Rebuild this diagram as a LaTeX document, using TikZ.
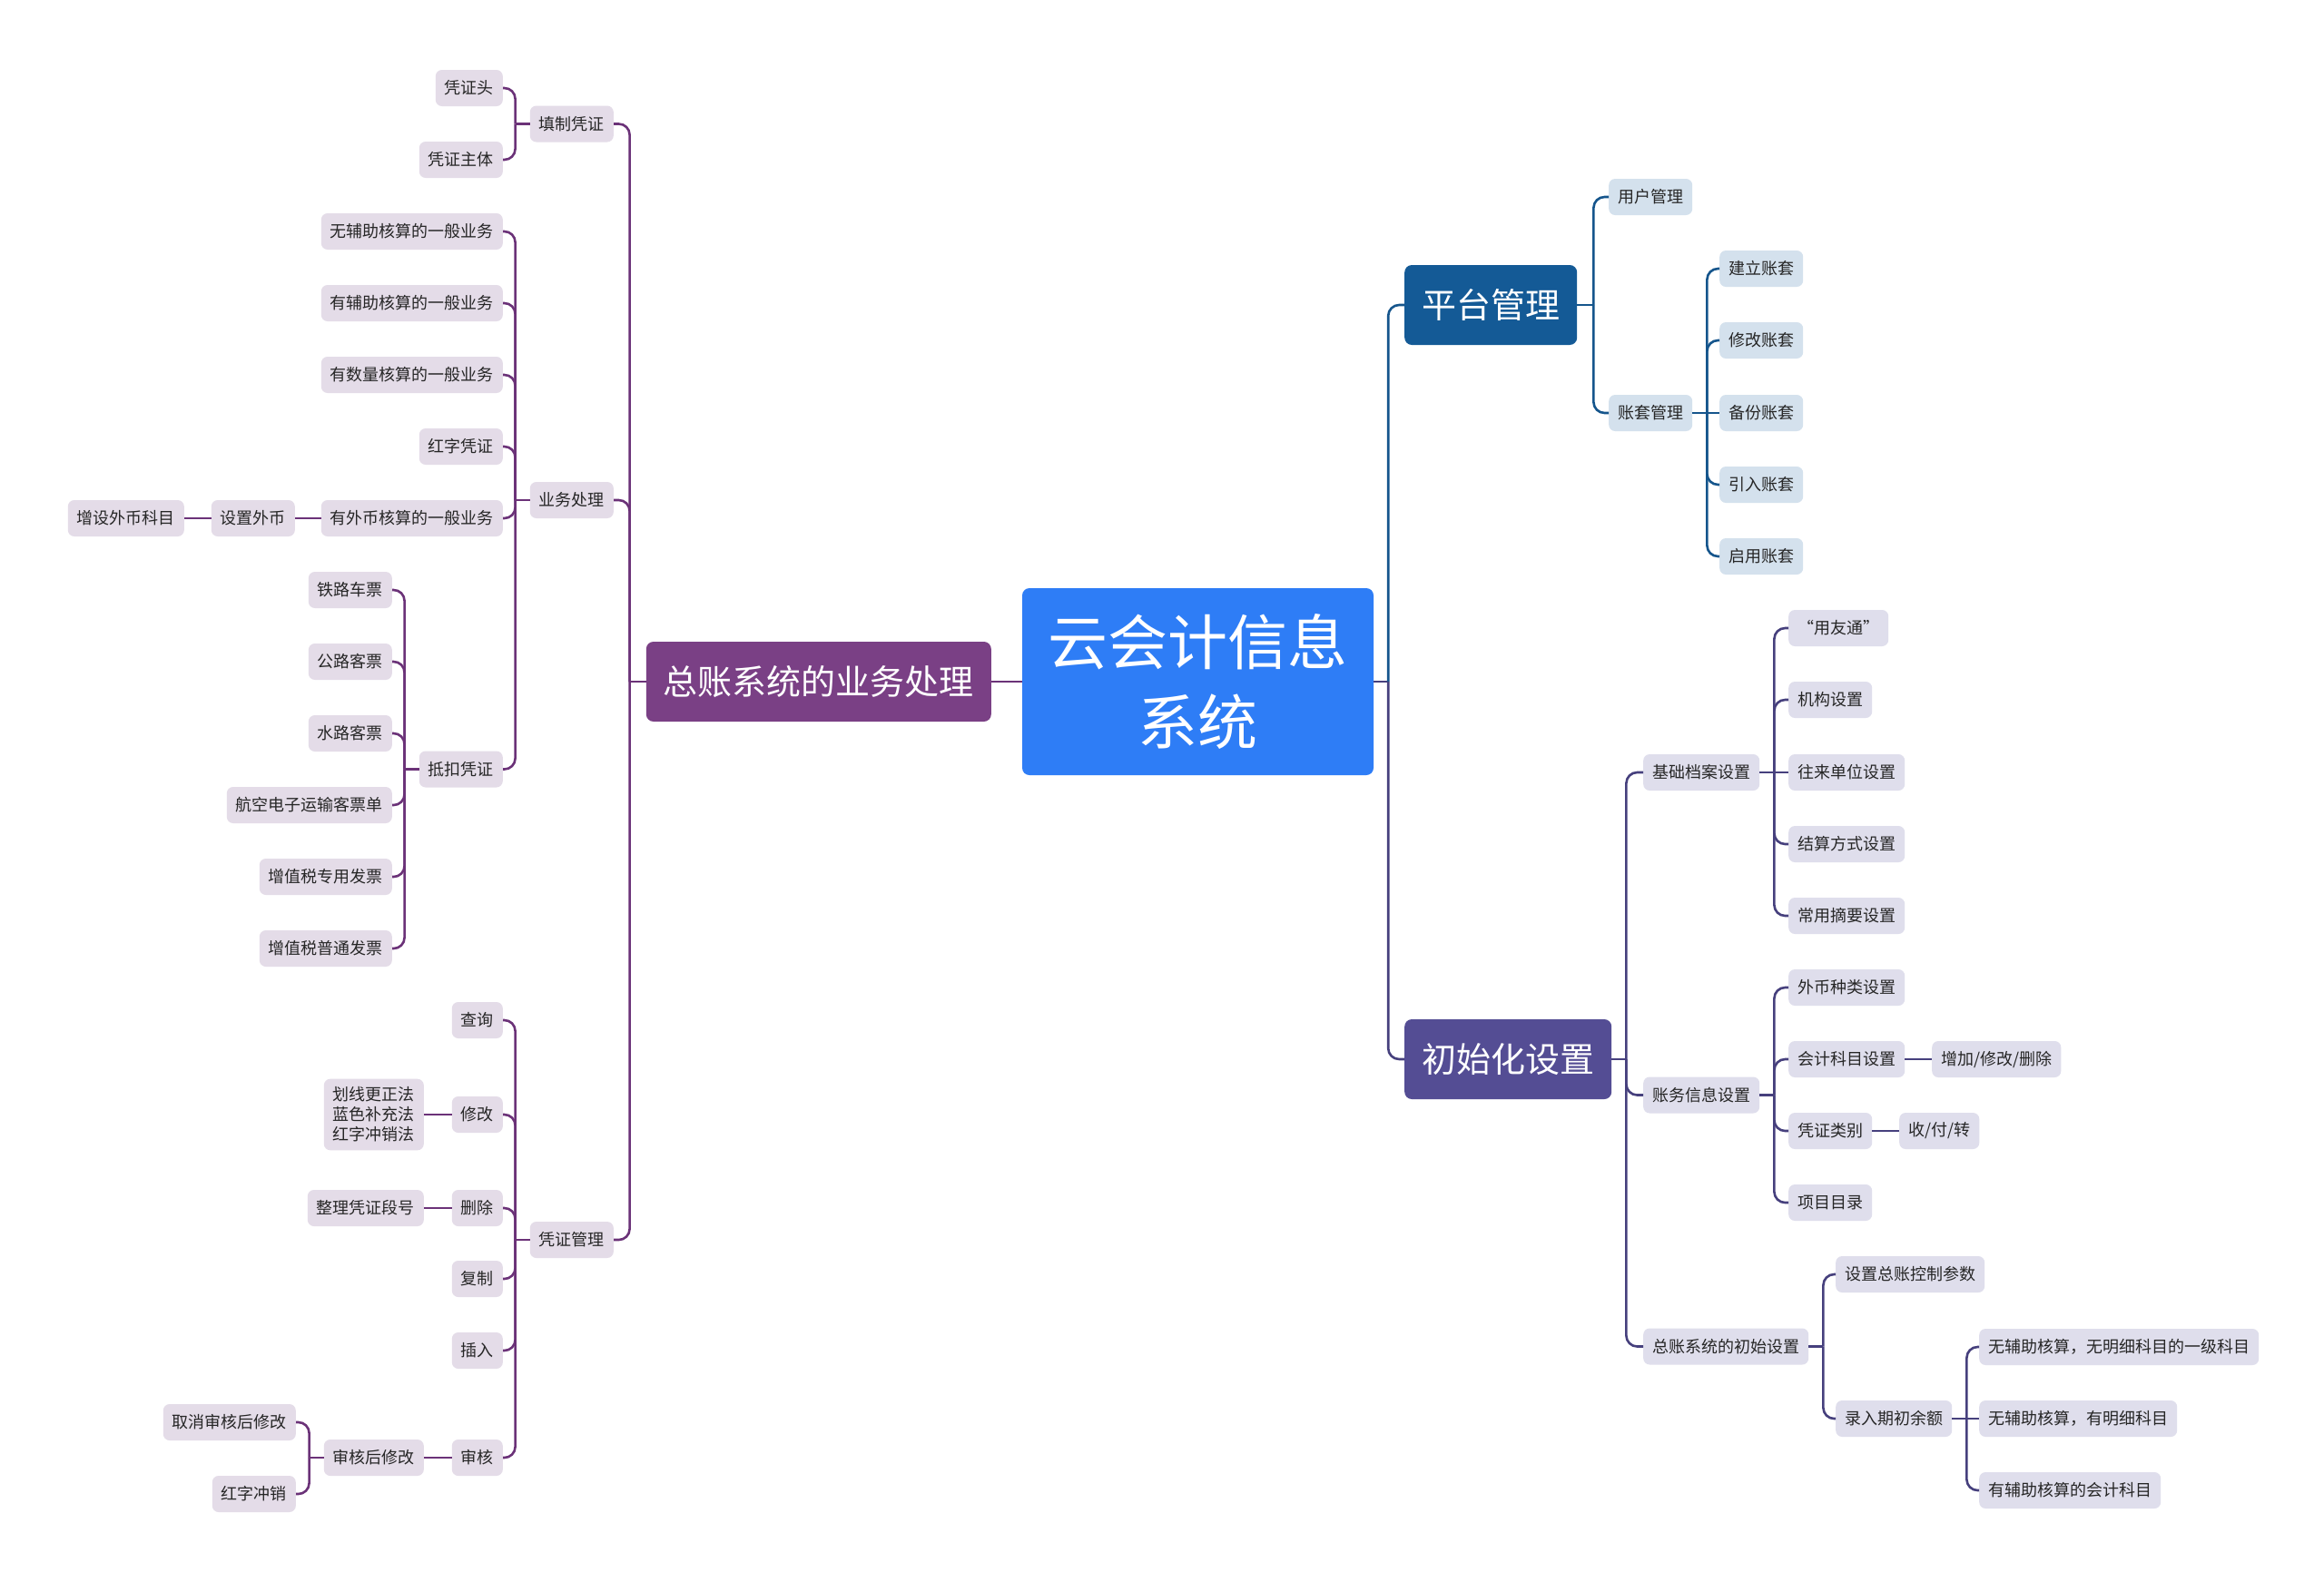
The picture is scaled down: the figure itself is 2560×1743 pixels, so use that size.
\documentclass[tikz,border=0pt]{standalone}
\usepackage{fontspec}
\setmainfont{Noto Sans CJK SC}
\definecolor{rootblue}{HTML}{2E7DF6}
\definecolor{zmain}{HTML}{7A4085}
\definecolor{zline}{HTML}{6B3278}
\definecolor{zfill}{HTML}{E4DCE8}
\definecolor{pmain}{HTML}{145A96}
\definecolor{pline}{HTML}{15558C}
\definecolor{pfill}{HTML}{D4E1ED}
\definecolor{cmain}{HTML}{544D94}
\definecolor{cline}{HTML}{46407D}
\definecolor{cfill}{HTML}{DFDEEC}
\definecolor{leaftext}{HTML}{262626}
\begin{document}
\begin{tikzpicture}[x=1pt,y=-1pt,
    box/.style={rounded corners=7pt,minimum height=40pt,inner xsep=10pt,inner ysep=0pt,text=leaftext,font=\fontsize{18}{22}\selectfont},
    zbox/.style={box,fill=zfill},
    pbox/.style={box,fill=pfill},
    cbox/.style={box,fill=cfill},
    main/.style={rounded corners=8pt,minimum height=88pt,inner xsep=19pt,inner ysep=0pt,text=white,font=\fontsize{38}{44}\selectfont},
    root/.style={rounded corners=8pt,fill=rootblue,minimum width=387pt,minimum height=206pt,align=center,text=white,font=\fontsize{66}{88}\selectfont},
    zlk/.style={draw=zline,line width=2.6pt,rounded corners=12pt},
    plk/.style={draw=pline,line width=2.6pt,rounded corners=12pt},
    clk/.style={draw=cline,line width=2.6pt,rounded corners=12pt}]
\fill[white] (0,0) rectangle (2560,1743);
\useasboundingbox (0,0) rectangle (2560,1743);

\node[root] (root) at (1319.5,751) {云会计信息\\系统};

\node[main,fill=zmain,anchor=east] (zz) at (1092,751) {总账系统的业务处理};
\node[zbox,anchor=east] (tz) at (676,136.5) {填制凭证};
\node[zbox,anchor=east] (yw) at (676,551) {业务处理};
\node[zbox,anchor=east] (pg) at (676,1366) {凭证管理};
\node[zbox,anchor=east] (pzt) at (554,97) {凭证头};
\node[zbox,anchor=east] (pzz) at (554,176) {凭证主体};
\node[zbox,anchor=east] (wf) at (554,255) {无辅助核算的一般业务};
\node[zbox,anchor=east] (yf) at (554,334) {有辅助核算的一般业务};
\node[zbox,anchor=east] (ys) at (554,413) {有数量核算的一般业务};
\node[zbox,anchor=east] (hz) at (554,492) {红字凭证};
\node[zbox,anchor=east] (wb) at (554,571) {有外币核算的一般业务};
\node[zbox,anchor=east] (sw) at (325,571) {设置外币};
\node[zbox,anchor=east] (zs) at (203,571) {增设外币科目};
\node[zbox,anchor=east] (dk) at (554,847.5) {抵扣凭证};
\node[zbox,anchor=east] (tl) at (432,650) {铁路车票};
\node[zbox,anchor=east] (gl) at (432,729) {公路客票};
\node[zbox,anchor=east] (sl) at (432,808) {水路客票};
\node[zbox,anchor=east] (hk) at (432,887) {航空电子运输客票单};
\node[zbox,anchor=east] (zy) at (432,966) {增值税专用发票};
\node[zbox,anchor=east] (pp) at (432,1045) {增值税普通发票};
\node[zbox,anchor=east] (cx) at (554,1124) {查询};
\node[zbox,anchor=east] (xg) at (554,1228) {修改};
\node[zbox,anchor=east,align=center,inner ysep=9pt] (ff) at (467,1228) {划线更正法\\蓝色补充法\\红字冲销法};
\node[zbox,anchor=east] (sc) at (554,1331) {删除};
\node[zbox,anchor=east] (zl) at (467,1331) {整理凭证段号};
\node[zbox,anchor=east] (fz) at (554,1409) {复制};
\node[zbox,anchor=east] (cr) at (554,1488) {插入};
\node[zbox,anchor=east] (sh) at (554,1606) {审核};
\node[zbox,anchor=east] (shx) at (467,1606) {审核后修改};
\node[zbox,anchor=east] (qx) at (326,1567) {取消审核后修改};
\node[zbox,anchor=east] (hc) at (326,1646) {红字冲销};

\node[main,fill=pmain,anchor=west] (ptgl) at (1547,336) {平台管理};
\node[pbox,anchor=west] (yh) at (1772,217) {用户管理};
\node[pbox,anchor=west] (zt) at (1772,455) {账套管理};
\node[pbox,anchor=west] (jl) at (1894,296) {建立账套};
\node[pbox,anchor=west] (xz) at (1894,375) {修改账套};
\node[pbox,anchor=west] (bf) at (1894,455) {备份账套};
\node[pbox,anchor=west] (yr) at (1894,534) {引入账套};
\node[pbox,anchor=west] (qy) at (1894,613) {启用账套};

\node[main,fill=cmain,anchor=west] (csh) at (1547,1167) {初始化设置};
\node[cbox,anchor=west] (jc) at (1810,851) {基础档案设置};
\node[cbox,anchor=west] (yyt) at (1970,692) {“用友通”};
\node[cbox,anchor=west] (jg) at (1970,771) {机构设置};
\node[cbox,anchor=west] (wl) at (1970,851) {往来单位设置};
\node[cbox,anchor=west] (js) at (1970,930) {结算方式设置};
\node[cbox,anchor=west] (cy) at (1970,1009) {常用摘要设置};
\node[cbox,anchor=west] (cw) at (1810,1206.5) {账务信息设置};
\node[cbox,anchor=west] (wz) at (1970,1088) {外币种类设置};
\node[cbox,anchor=west] (km) at (1970,1167) {会计科目设置};
\node[cbox,anchor=west] (zj) at (2128,1167) {增加/修改/删除};
\node[cbox,anchor=west] (lb) at (1970,1246) {凭证类别};
\node[cbox,anchor=west] (sfz) at (2092,1246) {收/付/转};
\node[cbox,anchor=west] (xm) at (1970,1325) {项目目录};
\node[cbox,anchor=west] (zc) at (1810,1483.5) {总账系统的初始设置};
\node[cbox,anchor=west] (kz) at (2022,1404) {设置总账控制参数};
\node[cbox,anchor=west] (lr) at (2022,1563) {录入期初余额};
\node[cbox,anchor=west] (la) at (2180,1484) {无辅助核算，无明细科目的一级科目};
\node[cbox,anchor=west] (lbm) at (2180,1563) {无辅助核算，有明细科目};
\node[cbox,anchor=west] (lc) at (2180,1642) {有辅助核算的会计科目};

\draw[zlk] (root.west) -- (zz.east);
\draw[zlk] (zz.west) -- ++(-18,0) coordinate (zzs);
\draw[zlk] (zzs) |- (tz.east);
\draw[zlk] (zzs) |- (yw.east);
\draw[zlk] (zzs) |- (pg.east);
\draw[zlk] (tz.west) -- ++(-16,0) coordinate (tzs);
\draw[zlk] (tzs) |- (pzt.east);
\draw[zlk] (tzs) |- (pzz.east);
\draw[zlk] (yw.west) -- ++(-16,0) coordinate (yws);
\draw[zlk] (yws) |- (wf.east);
\draw[zlk] (yws) |- (yf.east);
\draw[zlk] (yws) |- (ys.east);
\draw[zlk] (yws) |- (hz.east);
\draw[zlk] (yws) |- (wb.east);
\draw[zlk] (yws) |- (dk.east);
\draw[zlk] (wb.west) -- (sw.east);
\draw[zlk] (sw.west) -- (zs.east);
\draw[zlk] (dk.west) -- ++(-16,0) coordinate (dks);
\draw[zlk] (dks) |- (tl.east);
\draw[zlk] (dks) |- (gl.east);
\draw[zlk] (dks) |- (sl.east);
\draw[zlk] (dks) |- (hk.east);
\draw[zlk] (dks) |- (zy.east);
\draw[zlk] (dks) |- (pp.east);
\draw[zlk] (pg.west) -- ++(-16,0) coordinate (pgs);
\draw[zlk] (pgs) |- (cx.east);
\draw[zlk] (pgs) |- (xg.east);
\draw[zlk] (pgs) |- (sc.east);
\draw[zlk] (pgs) |- (fz.east);
\draw[zlk] (pgs) |- (cr.east);
\draw[zlk] (pgs) |- (sh.east);
\draw[zlk] (xg.west) -- (ff.east);
\draw[zlk] (sc.west) -- (zl.east);
\draw[zlk] (sh.west) -- (shx.east);
\draw[zlk] (shx.west) -- ++(-16,0) coordinate (shxs);
\draw[zlk] (shxs) |- (qx.east);
\draw[zlk] (shxs) |- (hc.east);

\draw[clk] (root.east) -- ++(16,0) coordinate (rs);
\draw[plk] (rs) |- (ptgl.west);
\draw[clk] (rs) |- (csh.west);
\draw[plk] (ptgl.east) -- ++(18,0) coordinate (pts);
\draw[plk] (pts) |- (yh.west);
\draw[plk] (pts) |- (zt.west);
\draw[plk] (zt.east) -- ++(16,0) coordinate (zts);
\draw[plk] (zts) |- (jl.west);
\draw[plk] (zts) |- (xz.west);
\draw[plk] (zt.east) -- (bf.west);
\draw[plk] (zts) |- (yr.west);
\draw[plk] (zts) |- (qy.west);
\draw[clk] (csh.east) -- ++(16,0) coordinate (cshs);
\draw[clk] (cshs) |- (jc.west);
\draw[clk] (cshs) |- (cw.west);
\draw[clk] (cshs) |- (zc.west);
\draw[clk] (jc.east) -- ++(16,0) coordinate (jcs);
\draw[clk] (jcs) |- (yyt.west);
\draw[clk] (jcs) |- (jg.west);
\draw[clk] (jc.east) -- (wl.west);
\draw[clk] (jcs) |- (js.west);
\draw[clk] (jcs) |- (cy.west);
\draw[clk] (cw.east) -- ++(16,0) coordinate (cws);
\draw[clk] (cws) |- (wz.west);
\draw[clk] (cws) |- (km.west);
\draw[clk] (cws) |- (lb.west);
\draw[clk] (cws) |- (xm.west);
\draw[clk] (km.east) -- (zj.west);
\draw[clk] (lb.east) -- (sfz.west);
\draw[clk] (zc.east) -- ++(16,0) coordinate (zcs);
\draw[clk] (zcs) |- (kz.west);
\draw[clk] (zcs) |- (lr.west);
\draw[clk] (lr.east) -- ++(16,0) coordinate (lrs);
\draw[clk] (lrs) |- (la.west);
\draw[clk] (lr.east) -- (lbm.west);
\draw[clk] (lrs) |- (lc.west);
\end{tikzpicture}
\end{document}
